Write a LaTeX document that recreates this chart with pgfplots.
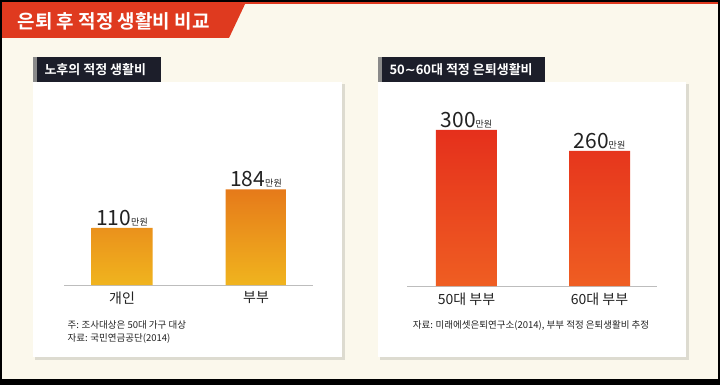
\documentclass[border=0pt]{standalone}
\usepackage{pgfplots}
\pgfplotsset{compat=1.18}
\usepackage{fontspec}
\setmainfont{Noto Sans CJK KR}[BoldFont={* Bold}]
\newfontfamily\dejavu{DejaVu Sans}[BoldFont={* Bold}]
\definecolor{bg}{HTML}{FBF8EC}
\definecolor{bannerred}{HTML}{DF3A1F}
\definecolor{hdr}{HTML}{1C1E2A}
\definecolor{hdrstrip}{HTML}{8A8A8A}
\definecolor{shadow}{HTML}{DDDBD0}
\definecolor{linegray}{HTML}{BDBDBD}
\definecolor{textdark}{HTML}{222222}
\definecolor{ortop}{HTML}{E67A1A}
\definecolor{orbot}{HTML}{F0B41E}
\definecolor{rdtop}{HTML}{E5301C}
\definecolor{rdbot}{HTML}{EF5E22}
\pgfplotsset{
  mybars/.style={
    scale only axis, height=200pt, ymin=0, ymax=384.6,
    axis x line=bottom, axis y line=none,
    x axis line style={draw=linegray, line width=0.9pt, -},
    xtick={0,1}, major tick length=0, ymajorticks=false,
    xticklabel style={font=\fontsize{14}{14}\selectfont, text=textdark, yshift=-3pt},
    clip=false, ybar, bar width=61pt,
    /pgf/number format/assume math mode=true,
    nodes near coords={\fontsize{21}{21}\selectfont\pgfmathprintnumber{\pgfplotspointmeta}\fontsize{9}{9}\selectfont 만원},
    every node near coord/.append style={text=textdark, anchor=south, yshift=0pt, inner sep=2pt},
  }
}
\begin{document}
\begin{tikzpicture}[x=1pt,y=-1pt]
% background
\fill[bg] (0,0) rectangle (720,385);
% red top line
\fill[bannerred] (0,1.5) rectangle (720,4);
% banner
\fill[bannerred] (0,2) -- (246,2) -- (229,38) -- (0,38) -- cycle;
\node[anchor=west, text=white, font=\bfseries\fontsize{19}{19}\selectfont] at (14,21) {은퇴 후 적정 생활비 비교};
% panel boxes
\fill[shadow] (35,84) rectangle (345,360);
\fill[white] (33,82) rectangle (342,357);
\fill[shadow] (380,84) rectangle (689,360);
\fill[white] (378,82) rectangle (686,357);
% headers
\fill[hdr] (33,57) rectangle (161,82);
\fill[hdrstrip] (33,57) rectangle (37,82);
\node[anchor=west, text=white, font=\bfseries\fontsize{13}{13}\selectfont] at (41,69.5) {노후의 적정 생활비};
\fill[hdr] (378,57) rectangle (545,82);
\fill[hdrstrip] (378,57) rectangle (382,82);
\node[anchor=west, text=white, font=\bfseries\fontsize{13}{13}\selectfont] at (386,69.5) {50{\dejavu\char"223C}60대 적정 은퇴생활비};
% left chart
\begin{axis}[mybars, at={(64pt,-285pt)}, anchor=south west, width=249pt,
  xmin=-0.433, xmax=1.425, xticklabels={개인,부부}]
\addplot[draw=none, top color=ortop, bottom color=orbot] coordinates {(0,110) (1,184)};
\end{axis}
% right chart
\begin{axis}[mybars, at={(407pt,-286pt)}, anchor=south west, width=250pt,
  xmin=-0.447, xmax=1.432, xticklabels={50대 부부,60대 부부}]
\addplot[draw=none, top color=rdtop, bottom color=rdbot] coordinates {(0,300) (1,260)};
\end{axis}
% footnotes
\node[anchor=west, text=textdark, font=\fontsize{9.5}{9.5}\selectfont] at (64,325) {주: 조사대상은 50대 가구 대상};
\node[anchor=west, text=textdark, font=\fontsize{9.5}{9.5}\selectfont] at (64,338) {자료: 국민연금공단(2014)};
\node[anchor=center, text=textdark, font=\fontsize{9.5}{9.5}\selectfont] at (531,325) {자료: 미래에셋은퇴연구소(2014), 부부 적정 은퇴생활비 추정};
% frame
\draw[black, line width=2pt] (1,1) rectangle (719,384);
\fill[black] (0,379) rectangle (720,385);
\end{tikzpicture}
\end{document}
